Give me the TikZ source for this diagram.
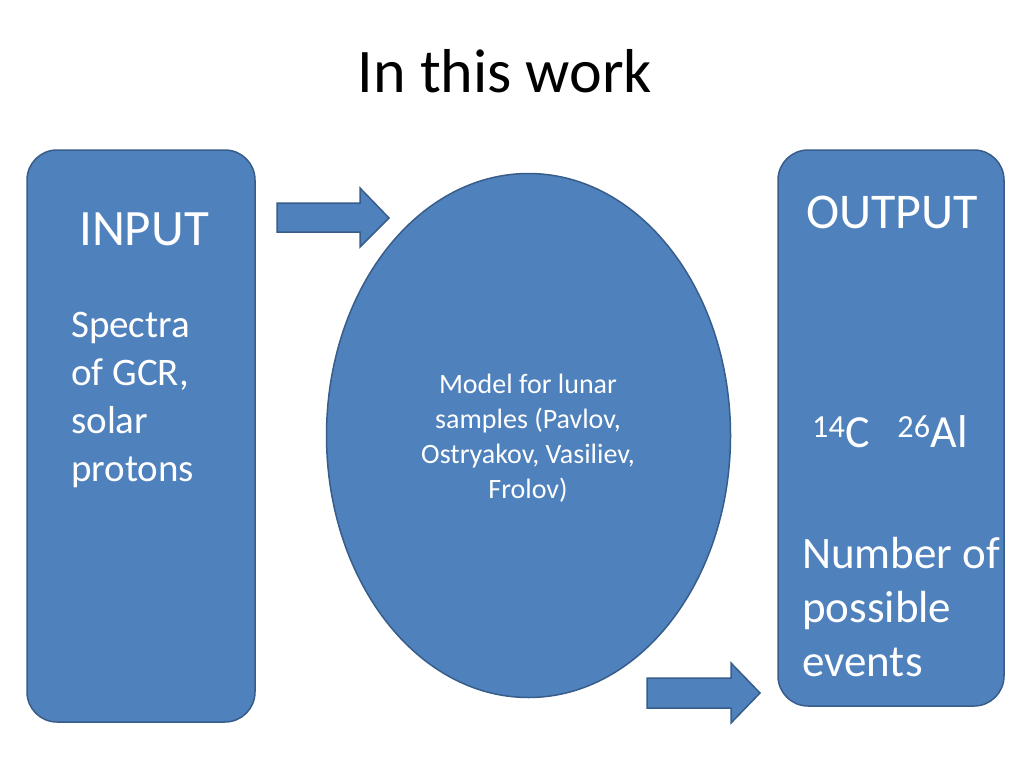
\documentclass[tikz,border=0pt]{standalone}
\usepackage{fontspec}
\setmainfont{Carlito}
\usetikzlibrary{shapes.geometric}
\definecolor{fillblue}{HTML}{4F81BD}
\definecolor{edgeblue}{HTML}{385D8A}
\tikzset{
  panel/.style={draw=edgeblue, fill=fillblue, line width=1.5pt, rounded corners=30pt, inner sep=0pt},
  blockarrow/.style={draw=edgeblue, fill=fillblue, line width=1.5pt},
  wtext/.style={text=white, inner sep=0pt, anchor=base west},
}
\begin{document}
\begin{tikzpicture}[x=1pt,y=-1pt]
\useasboundingbox (0,0) rectangle (1024,768);
% title
\node[inner sep=0pt, anchor=base] (title) at (505,92) {\fontsize{62}{74}\selectfont In this work};
% panels
\node[panel, minimum width=228pt, minimum height=572pt] (input) at (141,436) {};
\node[panel, minimum width=226pt, minimum height=556pt] (output) at (891,428) {};
\node[draw=edgeblue, fill=fillblue, line width=1.5pt, ellipse, minimum width=404pt, minimum height=524pt, inner sep=0pt] (model) at (528.5,435.5) {};
% block arrows
\draw[blockarrow] (277,203) -- (360,203) -- (360,188) -- (389,218) -- (360,247) -- (360,232) -- (277,232) -- cycle;
\draw[blockarrow] (647,678) -- (731,678) -- (731,663) -- (760,693) -- (731,723) -- (731,708) -- (647,708) -- cycle;
% input texts
\node[wtext, anchor=base] (inlabel) at (144,245) {\fontsize{51}{60}\selectfont INPUT};
\node[wtext] (sp1) at (71,337) {\fontsize{39}{48}\selectfont Spectra};
\node[wtext] (sp2) at (71,385) {\fontsize{39}{48}\selectfont of GCR,};
\node[wtext] (sp3) at (71,433) {\fontsize{39}{48}\selectfont solar};
\node[wtext] (sp4) at (71,481) {\fontsize{39}{48}\selectfont protons};
% model text
\node[text=white, align=center, inner sep=0pt, font=\fontsize{28}{35}\selectfont] (mtext) at (528,438) {Model for lunar\\samples (Pavlov,\\Ostryakov, Vasiliev,\\Frolov)};
% output texts
\node[wtext, anchor=base] (outlabel) at (892,228) {\fontsize{50}{60}\selectfont OUTPUT};
\node[wtext] (iso) at (812,447) {\fontsize{46}{54}\selectfont\textsuperscript{14}C\hspace{0.6em}\textsuperscript{26}Al};
\node[wtext] (n1) at (802,568) {\fontsize{45}{54}\selectfont Number of};
\node[wtext] (n2) at (802,622) {\fontsize{45}{54}\selectfont possible};
\node[wtext] (n3) at (802,676) {\fontsize{45}{54}\selectfont events};
\end{tikzpicture}
\end{document}
